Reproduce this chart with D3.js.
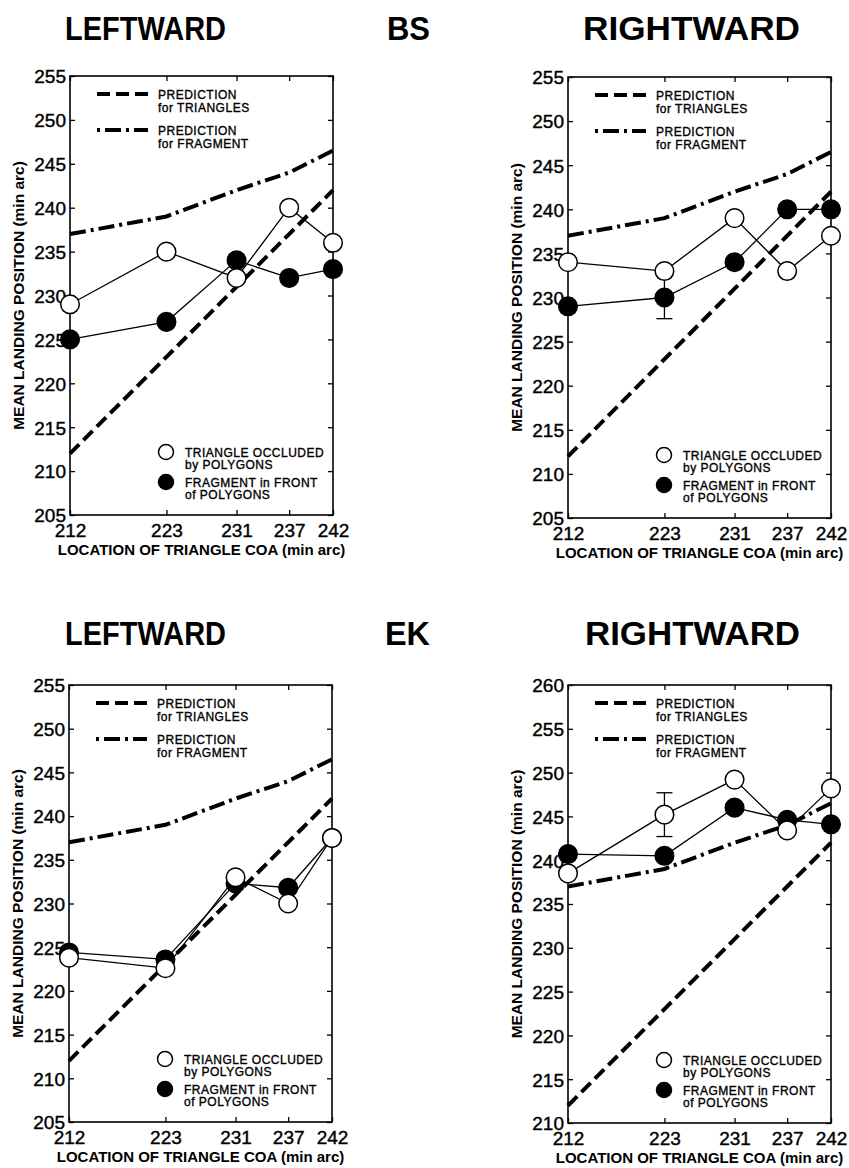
<!DOCTYPE html>
<html>
<head>
<meta charset="utf-8">
<script src="https://cdn.jsdelivr.net/npm/d3@7"></script>
<style>
  body { margin: 0; background: #fff; }
  svg { display: block; }
  text { font-family: "Liberation Sans", Arial, Helvetica, sans-serif; fill: #000; }
</style>
</head>
<body>
<svg width="849" height="1168"></svg>
<script>
// x positions (location of triangle COA, min arc)
const xLocations = [212, 223, 231, 237, 242];

// model predictions (same in every panel)
const predTriangles = [212, 223, 231, 237, 242];
const predFragment = [237, 239, 242, 244, 246.5];

// BS
const bsLeftOccluded = [229, 235, 232, 240, 236];
const bsLeftFragment = [225, 227, 234, 232, 233];
const bsRightOccluded = [234, 233, 239, 233, 237];
const bsRightFragment = [229, 230, 234, 240, 240];

// EK
const ekLeftOccluded = [223.8, 222.6, 233, 230, 237.5];
const ekLeftFragment = [224.4, 223.6, 232.3, 231.8, 237.5];
const ekRightOccluded = [238.5, 245.2, 249.2, 243.4, 248.2];
const ekRightFragment = [240.7, 240.5, 246, 244.6, 244.1];

// one error bar per right panel: [series, index, half-length]
const bsRightError = ["fragment", 1, 2.4];
const ekRightError = ["occluded", 1, 2.5];

const yTicksLow = [205, 210, 215, 220, 225, 230, 235, 240, 245, 250, 255];
const yTicksHigh = [210, 215, 220, 225, 230, 235, 240, 245, 250, 255, 260];

let svg = d3.select("svg");

// headings
const headings = [
	{ t: "LEFTWARD", x: 65, y: 40, w: 161 },
	{ t: "BS", x: 387, y: 40, w: 43 },
	{ t: "RIGHTWARD", x: 583, y: 40, w: 217 },
	{ t: "LEFTWARD", x: 65, y: 645, w: 161 },
	{ t: "EK", x: 385, y: 645, w: 45 },
	{ t: "RIGHTWARD", x: 585, y: 645, w: 215 }
];
svg.append("g").selectAll("text")
	.data(headings)
	.enter().append("text")
	.attr("x", d => d.x)
	.attr("y", d => d.y)
	.attr("textLength", d => d.w)
	.attr("lengthAdjust", "spacingAndGlyphs")
	.style("font-size", "33px")
	.style("font-weight", "bold")
	.text(d => d.t);

function drawPanel(p) {
	let w = p.right - p.left,
		h = p.bottom - p.top;

	let x = d3.scaleLinear().domain([212, 242]).range([0, w]);
	let y = d3.scaleLinear().domain(p.yDomain).range([h, 0]);

	let g = svg.append("g").attr("transform", "translate(" + p.left + "," + p.top + ")");

	// axes with inward ticks on all four sides
	let left = g.append("g")
		.call(d3.axisLeft(y).tickValues(p.yTicks).tickSize(-5).tickPadding(4).tickFormat(d3.format("d")));
	let right = g.append("g").attr("transform", "translate(" + w + ",0)")
		.call(d3.axisRight(y).tickValues(p.yTicks).tickSize(-5).tickFormat(""));
	let top = g.append("g")
		.call(d3.axisTop(x).tickValues(xLocations).tickSize(-5).tickFormat(""));
	let bottom = g.append("g").attr("transform", "translate(0," + h + ")")
		.call(d3.axisBottom(x).tickValues(xLocations).tickSize(-5).tickPadding(9).tickFormat(d3.format("d")));

	[left, right, top, bottom].forEach(a => {
		a.select(".domain").remove();
		a.selectAll("line").attr("stroke", "#000").attr("stroke-width", 1.3);
		a.selectAll("text")
			.style("font-family", "'Liberation Sans', Arial, sans-serif")
			.style("font-size", "19px")
			.attr("fill", "#000")
			.attr("stroke", "#000")
			.attr("stroke-width", 0.4);
	});
	left.selectAll("text").attr("dy", "0.36em");

	g.append("rect")
		.attr("width", w)
		.attr("height", h)
		.attr("fill", "none")
		.attr("stroke", "#000")
		.attr("stroke-width", 1.6);

	// axis titles
	g.append("text")
		.attr("x", w / 2)
		.attr("y", h + 40)
		.attr("text-anchor", "middle")
		.style("font-size", "15px")
		.style("font-weight", "bold")
		.text("LOCATION OF TRIANGLE COA (min arc)");

	g.append("text")
		.attr("transform", "translate(-46," + (h / 2) + ") rotate(-90)")
		.attr("text-anchor", "middle")
		.style("font-size", "15.5px")
		.style("font-weight", "bold")
		.text("MEAN LANDING POSITION (min arc)");

	let line = d3.line()
		.x((d, i) => x(xLocations[i]))
		.y(d => y(d));

	// predictions
	g.append("path")
		.attr("d", line(predTriangles))
		.attr("fill", "none")
		.attr("stroke", "#000")
		.attr("stroke-width", 4)
		.attr("stroke-dasharray", "13,6");

	g.append("path")
		.attr("d", line(predFragment))
		.attr("fill", "none")
		.attr("stroke", "#000")
		.attr("stroke-width", 4)
		.attr("stroke-dasharray", "16,5,3,5");

	// data lines
	[p.fragment, p.occluded].forEach(s => {
		g.append("path")
			.attr("d", line(s))
			.attr("fill", "none")
			.attr("stroke", "#000")
			.attr("stroke-width", 1.3);
	});

	// error bar
	if (p.error) {
		let s = p.error[0] == "fragment" ? p.fragment : p.occluded;
		let i = p.error[1], e = p.error[2];
		let cx = x(xLocations[i]);
		let eb = g.append("g").attr("stroke", "#000").attr("stroke-width", 1.3);
		eb.append("line").attr("x1", cx).attr("x2", cx).attr("y1", y(s[i] - e)).attr("y2", y(s[i] + e));
		[s[i] - e, s[i] + e].forEach(v => {
			eb.append("line").attr("x1", cx - 8).attr("x2", cx + 8).attr("y1", y(v)).attr("y2", y(v));
		});
	}

	// markers: filled first, open on top
	g.append("g").selectAll("circle")
		.data(p.fragment)
		.enter().append("circle")
		.attr("cx", (d, i) => x(xLocations[i]))
		.attr("cy", d => y(d))
		.attr("r", 9.3)
		.attr("fill", "#000")
		.attr("stroke", "#000")
		.attr("stroke-width", 1.5);

	g.append("g").selectAll("circle")
		.data(p.occluded)
		.enter().append("circle")
		.attr("cx", (d, i) => x(xLocations[i]))
		.attr("cy", d => y(d))
		.attr("r", 9.3)
		.attr("fill", "#fff")
		.attr("stroke", "#000")
		.attr("stroke-width", 1.5);

	// legend: predictions
	let lg = g.append("g");
	lg.append("line").attr("x1", 27).attr("x2", 78).attr("y1", 18).attr("y2", 18)
		.attr("stroke", "#000").attr("stroke-width", 4).attr("stroke-dasharray", "13,6");
	lg.append("line").attr("x1", 27).attr("x2", 78).attr("y1", 54).attr("y2", 54)
		.attr("stroke", "#000").attr("stroke-width", 4).attr("stroke-dasharray", "3,5,16,5");

	const legendText = [
		{ t: "PREDICTION", y: 23 },
		{ t: "for TRIANGLES", y: 36 },
		{ t: "PREDICTION", y: 59 },
		{ t: "for FRAGMENT", y: 72 }
	];
	lg.selectAll("text.pred")
		.data(legendText)
		.enter().append("text")
		.attr("class", "pred")
		.attr("x", 88)
		.attr("y", d => d.y)
		.attr("stroke", "#000")
		.attr("stroke-width", 0.35)
		.style("font-size", "12px")
		.style("letter-spacing", "0.5px")
		.text(d => d.t);

	// legend: markers
	lg.append("circle").attr("cx", 96).attr("cy", h - 63).attr("r", 7.5)
		.attr("fill", "#fff").attr("stroke", "#000").attr("stroke-width", 1.5);
	lg.append("circle").attr("cx", 96).attr("cy", h - 33).attr("r", 7.5)
		.attr("fill", "#000").attr("stroke", "#000").attr("stroke-width", 1.5);

	const markerText = [
		{ t: "TRIANGLE OCCLUDED", y: h - 58 },
		{ t: "by POLYGONS", y: h - 46 },
		{ t: "FRAGMENT in FRONT", y: h - 28 },
		{ t: "of POLYGONS", y: h - 16 }
	];
	lg.selectAll("text.mark")
		.data(markerText)
		.enter().append("text")
		.attr("class", "mark")
		.attr("x", 115)
		.attr("y", d => d.y)
		.attr("stroke", "#000")
		.attr("stroke-width", 0.35)
		.style("font-size", "12px")
		.style("letter-spacing", "0.5px")
		.text(d => d.t);
}

drawPanel({ left: 70, right: 333, top: 76, bottom: 515, yDomain: [205, 255], yTicks: yTicksLow,
	occluded: bsLeftOccluded, fragment: bsLeftFragment });
drawPanel({ left: 568, right: 831, top: 77, bottom: 518, yDomain: [205, 255], yTicks: yTicksLow,
	occluded: bsRightOccluded, fragment: bsRightFragment, error: bsRightError });
drawPanel({ left: 69, right: 332, top: 685, bottom: 1122, yDomain: [205, 255], yTicks: yTicksLow,
	occluded: ekLeftOccluded, fragment: ekLeftFragment });
drawPanel({ left: 568, right: 831, top: 685, bottom: 1123, yDomain: [210, 260], yTicks: yTicksHigh,
	occluded: ekRightOccluded, fragment: ekRightFragment, error: ekRightError });
</script>
</body>
</html>
